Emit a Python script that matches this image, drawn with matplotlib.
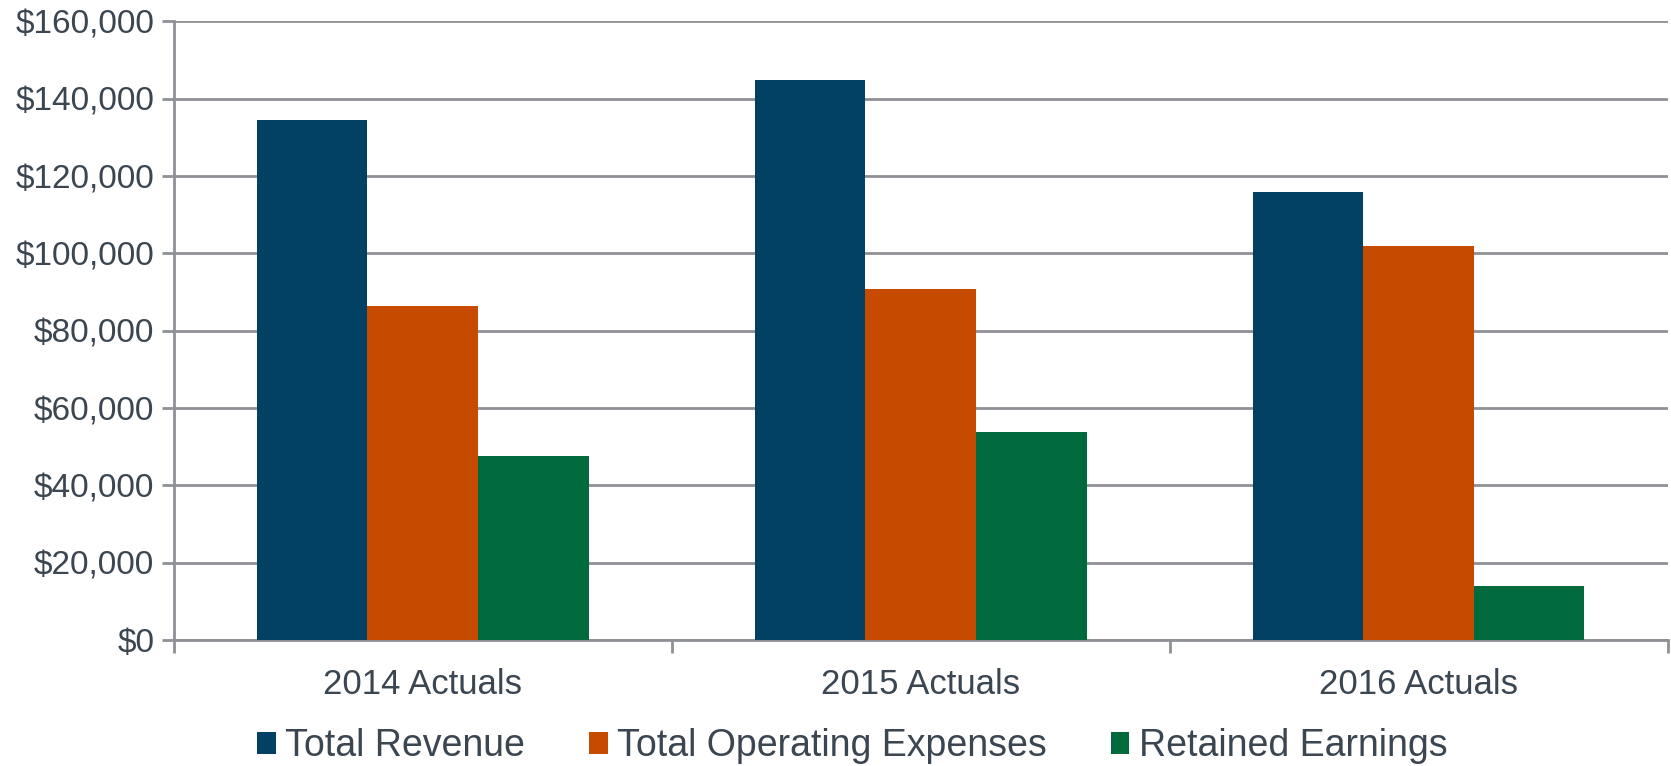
import matplotlib.pyplot as plt
import numpy as np
from matplotlib.ticker import FuncFormatter, MultipleLocator

plt.rcParams['font.family'] = ['Liberation Sans', 'DejaVu Sans']

categories = ['2014 Actuals', '2015 Actuals', '2016 Actuals']
series_names = ['Total Revenue', 'Total Operating Expenses', 'Retained Earnings']
revenue = [134400, 144900, 115800]
expenses = [86300, 90800, 101800]
retained = [47600, 53900, 14000]

colors = ['#024064', '#C64B00', '#006A3D']
text_col = '#3B4650'
grid_col = '#8E9195'

fig = plt.figure(figsize=(16.71, 7.66), dpi=100)
ax = fig.add_axes([0.104, 0.1645, 0.894, 0.8075])

x = np.arange(len(categories))
w = 0.222
for i, (vals, name) in enumerate(zip([revenue, expenses, retained], series_names)):
    ax.bar(x + (i - 1) * w, vals, width=w, color=colors[i], label=name, zorder=3)

ax.set_xlim(-0.5, 2.5)
ax.set_ylim(0, 160000)
ax.yaxis.set_major_locator(MultipleLocator(20000))
ax.yaxis.set_major_formatter(FuncFormatter(lambda v, p: f'${v:,.0f}'))
ax.grid(axis='y', color=grid_col, linewidth=2, zorder=0)

# category labels without ticks, ticks at the category boundaries
ax.set_xticks(x)
ax.set_xticklabels(categories)
ax.set_xticks([-0.5, 0.5, 1.5, 2.5], minor=True)
ax.tick_params(axis='x', which='major', length=0, pad=20, labelsize=25, labelcolor=text_col)
ax.tick_params(axis='x', which='minor', length=9, width=2, color=grid_col)
ax.tick_params(axis='y', length=9, width=2, color=grid_col, pad=5, labelsize=24, labelcolor=text_col)

for s in ['top', 'right']:
    ax.spines[s].set_visible(False)
for s in ['left', 'bottom']:
    ax.spines[s].set_color(grid_col)
    ax.spines[s].set_linewidth(2)

leg = fig.legend(loc='lower center', bbox_to_anchor=(0.51, 0.002), ncol=3, frameon=False,
                 fontsize=27, handlelength=0.5, handleheight=0.5, handletextpad=0.25,
                 columnspacing=1.7, borderpad=0, borderaxespad=0, labelcolor=text_col)

fig.savefig('out.png', dpi=100)
